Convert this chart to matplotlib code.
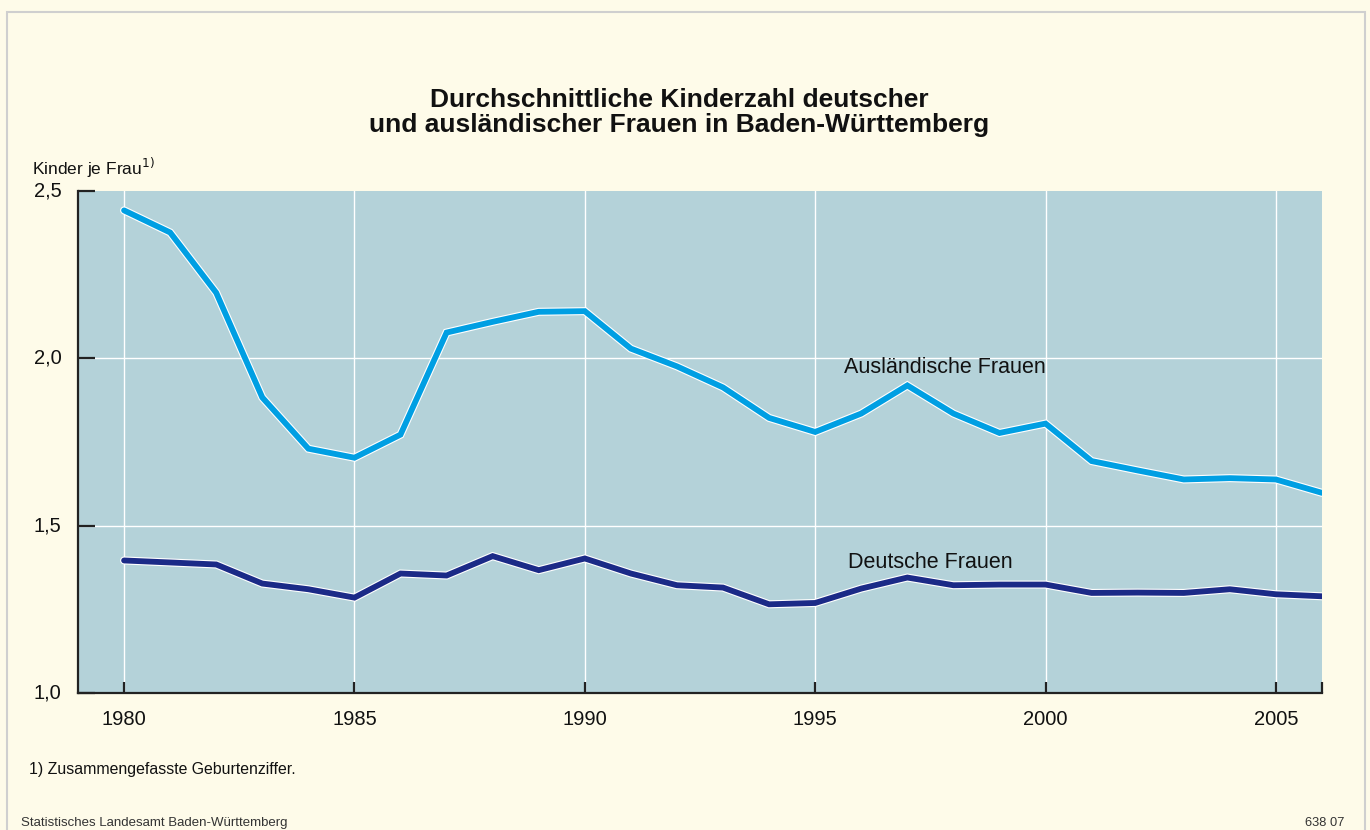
import matplotlib
matplotlib.use("Agg")
import matplotlib.pyplot as plt
import matplotlib.patheffects as pe
from matplotlib.patches import Rectangle

years = list(range(1980, 2007))
auslaendische = [2.442, 2.376, 2.196, 1.883, 1.730, 1.703, 1.772, 2.077, 2.109, 2.139,
                 2.141, 2.029, 1.976, 1.913, 1.822, 1.780, 1.835, 1.919, 1.835, 1.777,
                 1.805, 1.693, 1.665, 1.638, 1.642, 1.638, 1.598]
deutsche = [1.396, 1.390, 1.384, 1.327, 1.310, 1.285, 1.357, 1.351, 1.409, 1.367,
            1.402, 1.357, 1.322, 1.315, 1.265, 1.269, 1.312, 1.345, 1.322, 1.324,
            1.324, 1.299, 1.300, 1.299, 1.310, 1.295, 1.289]
xticks = [1980, 1985, 1990, 1995, 2000, 2005]
yticks = [1.0, 1.5, 2.0, 2.5]
ytick_labels = ["1,0", "1,5", "2,0", "2,5"]

plt.rcParams['font.family'] = ['Liberation Sans', 'DejaVu Sans']

W, H = 1370, 830
fig = plt.figure(figsize=(W / 100, H / 100), dpi=100)
fig.patch.set_facecolor("#FEFBE9")
fig.patches.append(Rectangle((7 / W, -0.01), 1358 / W, (830 - 12) / H + 0.01, transform=fig.transFigure,
                             fill=False, edgecolor="#CFCFCF", linewidth=1.5))

ax = fig.add_axes([78 / W, 1 - 693 / H, (1322 - 78) / W, (693 - 191) / H])
ax.set_facecolor("#B4D2D9")
ax.set_xlim(1979, 2006)
ax.set_ylim(1.0, 2.5)

for x in xticks:
    ax.axvline(x, color="white", lw=1.0, zorder=1)
for y in [1.5, 2.0]:
    ax.axhline(y, color="white", lw=1.0, zorder=1)

stroke = [pe.Stroke(linewidth=5.8, foreground="white"), pe.Normal()]
ax.plot(years, auslaendische, color="#009FE3", lw=4.2, solid_joinstyle="miter",
        solid_capstyle="round", path_effects=stroke, zorder=3)
ax.plot(years, deutsche, color="#1B2A87", lw=4.2, solid_joinstyle="miter",
        solid_capstyle="round", path_effects=stroke, zorder=3)

ax.text(1997.82, 1.972, "Ausländische Frauen", fontsize=15.5, color="#111111", va="center", ha="center")
ax.text(1997.5, 1.390, "Deutsche Frauen", fontsize=15.5, color="#111111", va="center", ha="center")

for s in ["top", "right"]:
    ax.spines[s].set_visible(False)
for s in ["left", "bottom"]:
    ax.spines[s].set_color("#222222")
    ax.spines[s].set_linewidth(1.6)

ax.set_xticks(xticks + [2006])
ax.set_xticklabels([str(x) for x in xticks] + [""])
ax.set_yticks(yticks)
ax.set_yticklabels(ytick_labels)
ax.tick_params(axis="both", direction="in", width=1.6, color="#222222",
               labelsize=14.5, labelcolor="#111111")
ax.tick_params(axis="x", length=8, pad=12)
ax.tick_params(axis="y", length=12.5, pad=12)
for lab in ax.get_yticklabels():
    lab.set_verticalalignment("center")

fig.text(679 / W, 1 - 100 / H, "Durchschnittliche Kinderzahl deutscher", ha="center", va="center",
         fontsize=19, fontweight="bold", color="#111111")
fig.text(679 / W, 1 - 125 / H, "und ausländischer Frauen in Baden-Württemberg", ha="center", va="center",
         fontsize=19, fontweight="bold", color="#111111")

fig.text(32 / W, 1 - 168 / H, "Kinder je Frau$^{1)}$", ha="left", va="center", fontsize=12.5, color="#111111")
fig.text(29 / W, 1 - 769 / H, "1) Zusammengefasste Geburtenziffer.", ha="left", va="center",
         fontsize=11.4, color="#111111")
fig.text(21 / W, 1 - 823 / H, "Statistisches Landesamt Baden-Württemberg", ha="left", va="center",
         fontsize=9.5, color="#333333")
fig.text(1344 / W, 1 - 823 / H, "638 07", ha="right", va="center", fontsize=9.3, color="#333333")

fig.savefig("out.png", dpi=100, facecolor=fig.get_facecolor())
